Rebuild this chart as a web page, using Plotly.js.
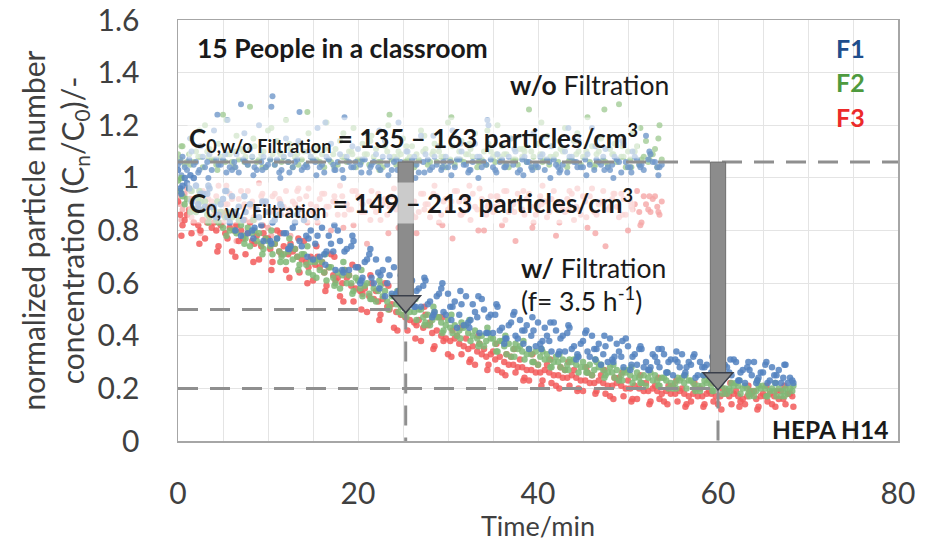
<!DOCTYPE html>
<html>
<head>
<meta charset="utf-8">
<script src="https://cdn.plot.ly/plotly-3.0.1.min.js"></script>
<style>html,body{margin:0;padding:0;background:#fff;}#chart{width:935px;height:542px;}</style>
</head>
<body>
<div id="chart"></div>
<script>
// ---- time grids (min) ----
const tA = [0,0.5,1,1.5,2,2.5,3,3.5,4,4.5,5,5.5,6,6.5,7,7.5,8,8.5,9,9.5,10,10.5,11,11.5,12,12.5,13,13.5,14,14.5,15,15.5,16,16.5,17,17.5,18,18.5,19,19.5,20,20.5,21,21.5,22,22.5,23,23.5,24,24.5,25,25.5,26,26.5,27,27.5,28,28.5,29,29.5,30,30.5,31,31.5,32,32.5,33,33.5,34,34.5,35,35.5,36,36.5,37,37.5,38,38.5,39,39.5,40,40.5,41,41.5,42,42.5,43,43.5,44,44.5,45,45.5,46,46.5,47,47.5,48,48.5,49,49.5,50,50.5,51,51.5,52,52.5,53,53.5,54,54.5,55,55.5,56,56.5,57,57.5,58,58.5,59,59.5,60,60.5,61,61.5,62,62.5,63,63.5,64,64.5,65,65.5,66,66.5,67,67.5,68];
const tB = [0.25,0.75,1.25,1.75,2.25,2.75,3.25,3.75,4.25,4.75,5.25,5.75,6.25,6.75,7.25,7.75,8.25,8.75,9.25,9.75,10.25,10.75,11.25,11.75,12.25,12.75,13.25,13.75,14.25,14.75,15.25,15.75,16.25,16.75,17.25,17.75,18.25,18.75,19.25,19.75,20.25,20.75,21.25,21.75,22.25,22.75,23.25,23.75,24.25,24.75,25.25,25.75,26.25,26.75,27.25,27.75,28.25,28.75,29.25,29.75,30.25,30.75,31.25,31.75,32.25,32.75,33.25,33.75,34.25,34.75,35.25,35.75,36.25,36.75,37.25,37.75,38.25,38.75,39.25,39.75,40.25,40.75,41.25,41.75,42.25,42.75,43.25,43.75,44.25,44.75,45.25,45.75,46.25,46.75,47.25,47.75,48.25,48.75,49.25,49.75,50.25,50.75,51.25,51.75,52.25,52.75,53.25,53.75,54.25,54.75,55.25,55.75,56.25,56.75,57.25,57.75,58.25,58.75,59.25,59.75,60.25,60.75,61.25,61.75,62.25,62.75,63.25,63.75,64.25,64.75,65.25,65.75,66.25,66.75,67.25,67.75,68.25];
const tC = [0.375,1.375,2.375,3.375,4.375,5.375,6.375,7.375,8.375,9.375,10.375,11.375,12.375,13.375,14.375,15.375,16.375,17.375,18.375,19.375,20.375,21.375,22.375,23.375,24.375,25.375,26.375,27.375,28.375,29.375,30.375,31.375,32.375,33.375,34.375,35.375,36.375,37.375,38.375,39.375,40.375,41.375,42.375,43.375,44.375,45.375,46.375,47.375,48.375,49.375,50.375,51.375,52.375,53.375,54.375,55.375,56.375,57.375,58.375,59.375,60.375,61.375,62.375,63.375,64.375,65.375,66.375,67.375,68.375];

// ---- w/ Filtration (normalized Cn/C0) ----
const f1WithA = [1.03,0.97,0.98,0.91,0.97,0.94,0.89,0.96,0.89,0.86,0.92,0.85,0.93,0.86,0.78,0.87,0.90,0.81,0.85,0.76,0.87,0.83,0.77,0.89,0.79,0.74,0.83,0.76,0.84,0.77,0.69,0.78,0.81,0.72,0.75,0.65,0.76,0.72,0.65,0.76,0.66,0.62,0.69,0.62,0.69,0.63,0.55,0.63,0.66,0.57,0.60,0.52,0.61,0.57,0.51,0.61,0.53,0.49,0.56,0.49,0.56,0.51,0.43,0.52,0.55,0.46,0.49,0.41,0.50,0.47,0.41,0.51,0.43,0.39,0.45,0.40,0.46,0.42,0.35,0.42,0.45,0.38,0.40,0.34,0.42,0.39,0.34,0.43,0.36,0.32,0.38,0.34,0.40,0.35,0.29,0.36,0.39,0.32,0.34,0.28,0.36,0.32,0.29,0.35,0.30,0.28,0.32,0.28,0.33,0.30,0.25,0.30,0.33,0.28,0.29,0.24,0.30,0.28,0.25,0.31,0.26,0.24,0.28,0.25,0.30,0.26,0.22,0.27,0.30,0.24,0.26,0.22,0.28,0.25,0.22,0.29,0.24];
const f1WithB = [0.96,1.00,0.96,1.00,0.90,0.94,0.94,0.89,0.85,0.90,0.95,0.83,0.87,0.89,0.84,0.79,0.80,0.88,0.82,0.91,0.76,0.84,0.86,0.79,0.73,0.81,0.86,0.74,0.78,0.80,0.75,0.70,0.71,0.78,0.72,0.80,0.65,0.73,0.74,0.66,0.60,0.68,0.71,0.60,0.64,0.65,0.60,0.56,0.56,0.63,0.58,0.65,0.51,0.58,0.59,0.52,0.47,0.55,0.58,0.48,0.51,0.53,0.48,0.44,0.45,0.52,0.47,0.54,0.41,0.48,0.48,0.42,0.37,0.44,0.48,0.39,0.42,0.44,0.40,0.36,0.37,0.43,0.38,0.45,0.33,0.40,0.41,0.35,0.31,0.37,0.41,0.32,0.35,0.37,0.33,0.30,0.31,0.37,0.32,0.39,0.27,0.33,0.35,0.28,0.27,0.33,0.30,0.35,0.26,0.31,0.31,0.28,0.25,0.30,0.32,0.25,0.28,0.29,0.26,0.24,0.25,0.29,0.26,0.31,0.23,0.27,0.28,0.25,0.22,0.26,0.29,0.23,0.25,0.27,0.24,0.22,0.23];
const f1WithC = [0.94,1.01,0.88,0.97,0.85,0.95,0.80,0.93,0.77,0.91,0.75,0.90,0.73,0.88,0.70,0.85,0.67,0.82,0.64,0.78,0.61,0.73,0.58,0.69,0.54,0.65,0.51,0.62,0.48,0.60,0.46,0.57,0.43,0.55,0.41,0.52,0.39,0.49,0.37,0.47,0.35,0.45,0.34,0.44,0.33,0.42,0.31,0.40,0.30,0.38,0.29,0.36,0.27,0.35,0.26,0.34,0.26,0.33,0.25,0.32,0.24,0.31,0.23,0.30,0.23,0.30,0.22,0.29,0.22];
const f2WithA = [0.99,0.93,0.92,0.95,0.87,0.91,0.91,0.85,0.88,0.83,0.81,0.87,0.85,0.79,0.82,0.77,0.74,0.80,0.79,0.73,0.76,0.71,0.77,0.70,0.68,0.74,0.73,0.67,0.71,0.64,0.63,0.69,0.68,0.61,0.66,0.60,0.58,0.65,0.63,0.57,0.61,0.55,0.60,0.54,0.53,0.59,0.57,0.51,0.55,0.49,0.48,0.53,0.52,0.46,0.50,0.45,0.44,0.49,0.47,0.42,0.46,0.41,0.40,0.45,0.44,0.38,0.42,0.37,0.36,0.41,0.39,0.34,0.38,0.33,0.32,0.37,0.36,0.31,0.35,0.30,0.29,0.34,0.33,0.28,0.32,0.28,0.27,0.31,0.31,0.26,0.30,0.26,0.25,0.30,0.29,0.25,0.28,0.24,0.23,0.27,0.27,0.22,0.26,0.22,0.21,0.26,0.25,0.21,0.24,0.20,0.20,0.24,0.24,0.20,0.23,0.19,0.19,0.23,0.23,0.19,0.22,0.18,0.18,0.22,0.22,0.18,0.21,0.17,0.17,0.21,0.21,0.17,0.20,0.17,0.17,0.20,0.20];
const f2WithB = [0.95,0.90,0.96,0.88,0.92,0.88,0.86,0.89,0.84,0.87,0.85,0.80,0.80,0.84,0.78,0.81,0.79,0.76,0.75,0.77,0.74,0.75,0.72,0.71,0.72,0.69,0.70,0.71,0.67,0.68,0.68,0.65,0.64,0.66,0.62,0.64,0.63,0.60,0.60,0.62,0.58,0.59,0.56,0.58,0.57,0.55,0.53,0.55,0.52,0.51,0.51,0.49,0.49,0.50,0.47,0.48,0.46,0.47,0.45,0.44,0.43,0.44,0.42,0.43,0.41,0.40,0.39,0.40,0.38,0.39,0.37,0.38,0.36,0.37,0.35,0.35,0.34,0.33,0.33,0.34,0.32,0.31,0.31,0.30,0.30,0.31,0.29,0.30,0.29,0.28,0.28,0.29,0.27,0.28,0.27,0.26,0.26,0.27,0.25,0.26,0.25,0.24,0.24,0.25,0.24,0.23,0.23,0.24,0.23,0.22,0.22,0.23,0.22,0.23,0.22,0.21,0.21,0.22,0.21,0.22,0.21,0.20,0.20,0.21,0.21,0.20,0.20,0.19,0.19,0.20,0.20,0.19,0.19,0.20,0.19,0.18,0.19];
const f2WithC = [1.00,0.87,0.95,0.83,0.91,0.78,0.87,0.75,0.84,0.71,0.80,0.68,0.77,0.65,0.74,0.62,0.71,0.59,0.68,0.56,0.65,0.54,0.61,0.50,0.57,0.47,0.54,0.44,0.51,0.41,0.48,0.39,0.46,0.36,0.43,0.34,0.40,0.32,0.38,0.30,0.35,0.28,0.33,0.27,0.32,0.26,0.31,0.24,0.29,0.23,0.28,0.22,0.27,0.21,0.26,0.20,0.25,0.20,0.25,0.19,0.24,0.19,0.23,0.18,0.23,0.17,0.22,0.17,0.21];
const f3WithA = [0.91,0.82,0.86,0.79,0.88,0.80,0.77,0.85,0.83,0.74,0.86,0.77,0.72,0.82,0.80,0.71,0.83,0.75,0.69,0.79,0.77,0.68,0.80,0.71,0.65,0.75,0.73,0.64,0.76,0.66,0.61,0.70,0.68,0.59,0.71,0.61,0.55,0.65,0.63,0.53,0.66,0.56,0.49,0.60,0.57,0.48,0.60,0.50,0.43,0.54,0.51,0.42,0.53,0.44,0.38,0.48,0.45,0.36,0.47,0.38,0.33,0.42,0.40,0.33,0.39,0.31,0.29,0.37,0.35,0.29,0.34,0.27,0.26,0.33,0.32,0.26,0.31,0.24,0.23,0.30,0.29,0.23,0.29,0.22,0.21,0.28,0.27,0.21,0.27,0.20,0.19,0.26,0.25,0.19,0.25,0.18,0.17,0.24,0.24,0.17,0.23,0.16,0.16,0.22,0.22,0.15,0.21,0.16,0.15,0.21,0.21,0.15,0.20,0.14,0.15,0.20,0.20,0.14,0.19,0.15,0.14,0.20,0.19,0.14,0.19,0.15,0.14,0.19,0.19,0.13,0.18,0.15,0.14,0.19,0.19,0.14,0.18];
const f3WithB = [0.86,0.84,0.88,0.83,0.82,0.84,0.83,0.81,0.80,0.82,0.79,0.81,0.80,0.76,0.77,0.79,0.76,0.78,0.74,0.77,0.73,0.75,0.72,0.74,0.71,0.72,0.70,0.69,0.68,0.70,0.67,0.66,0.64,0.66,0.63,0.62,0.60,0.62,0.59,0.58,0.57,0.58,0.55,0.54,0.53,0.54,0.51,0.52,0.49,0.48,0.47,0.46,0.45,0.46,0.43,0.44,0.41,0.42,0.40,0.39,0.38,0.39,0.37,0.36,0.35,0.36,0.34,0.33,0.32,0.33,0.31,0.32,0.30,0.29,0.29,0.28,0.28,0.27,0.27,0.26,0.26,0.27,0.26,0.25,0.25,0.24,0.24,0.25,0.24,0.23,0.23,0.22,0.22,0.23,0.22,0.21,0.21,0.22,0.21,0.20,0.20,0.21,0.20,0.19,0.19,0.20,0.19,0.18,0.19,0.18,0.18,0.19,0.18,0.17,0.18,0.17,0.17,0.18,0.18,0.17,0.17,0.18,0.17,0.18,0.17,0.16,0.17,0.18,0.16,0.17,0.17,0.18,0.17,0.16,0.16,0.18,0.17];
const f3WithC = [0.78,0.92,0.75,0.89,0.72,0.87,0.70,0.84,0.68,0.82,0.65,0.79,0.62,0.77,0.60,0.74,0.57,0.70,0.53,0.67,0.50,0.63,0.46,0.59,0.42,0.55,0.39,0.51,0.35,0.47,0.32,0.43,0.30,0.40,0.27,0.37,0.25,0.35,0.23,0.33,0.21,0.31,0.20,0.30,0.19,0.28,0.18,0.27,0.16,0.26,0.15,0.25,0.14,0.24,0.14,0.23,0.13,0.22,0.13,0.22,0.12,0.22,0.13,0.21,0.12,0.21,0.13,0.21,0.13];

// ---- w/o Filtration (0 - 53.75 min) ----
const f1WithoutA = [1.05,1.08,1.03,1.10,1.06,1.12,1.04,1.09,1.18,1.05,1.07,1.22,1.03,1.09,1.28,1.06,1.11,1.04,1.20,1.08,1.05,1.31,1.07,1.03,1.15,1.09,1.06,1.25,1.04,1.10,1.07,1.19,1.05,1.08,1.13,1.03,1.09,1.23,1.06,1.04,1.11,1.07,1.17,1.05,1.09,1.03,1.14,1.08,1.06,1.21,1.04,1.10,1.07,1.05,1.16,1.09,1.03,1.08,1.12,1.06,1.04,1.18,1.07,1.10,1.05,1.03,1.13,1.08,1.06,1.20,1.04,1.09,1.07,1.05,1.15,1.10,1.03,1.08,1.06,1.17,1.04,1.09,1.07,1.12,1.05,1.03,1.10,1.08,1.06,1.14,1.04,1.09,1.19,1.07,1.05,1.11,1.03,1.08,1.06,1.13,1.04,1.10,1.07,1.05,1.16,1.09,1.06,1.04];
const f1WithoutB = [1.06,1.04,1.07,1.05,1.02,1.08,1.06,1.03,1.07,1.05,1.09,1.04,1.06,1.02,1.07,1.05,1.08,1.03,1.06,1.04,1.07,1.05,1.02,1.08,1.06,1.04,1.07,1.03,1.05,1.08,1.06,1.04,1.02,1.07,1.05,1.06,1.03,1.08,1.04,1.06,1.05,1.07,1.02,1.06,1.04,1.08,1.05,1.03,1.07,1.06,1.04,1.05,1.08,1.02,1.06,1.07,1.04,1.05,1.03,1.08,1.06,1.04,1.07,1.05,1.02,1.06,1.08,1.04,1.05,1.07,1.03,1.06,1.04,1.08,1.05,1.02,1.07,1.06,1.04,1.05,1.08,1.03,1.06,1.07,1.04,1.05,1.02,1.08,1.06,1.04,1.07,1.05,1.03,1.06,1.08,1.04,1.05,1.07,1.02,1.06,1.04,1.08,1.05,1.03,1.07,1.06,1.04,1.05];
const f1WithoutC = [1.01,1.15,1.03,1.00,1.24,1.02,1.04,1.17,1.01,1.03,1.27,1.00,1.02,1.14,1.04,1.01,1.21,1.03,1.00,1.12,1.02,1.04,1.18,1.01,1.03,1.10,1.00,1.02,1.16,1.04,1.01,1.13,1.03,1.00,1.22,1.02,1.04,1.11,1.01,1.03,1.15,1.00,1.02,1.19,1.04,1.01,1.12,1.03,1.00,1.14,1.02,1.04,1.10,1.01];
const f2WithoutA = [1.09,1.12,1.06,1.15,1.10,1.08,1.20,1.11,1.07,1.13,1.24,1.09,1.06,1.16,1.11,1.08,1.27,1.12,1.07,1.10,1.18,1.09,1.14,1.06,1.22,1.11,1.08,1.13,1.10,1.17,1.07,1.12,1.09,1.21,1.06,1.11,1.14,1.08,1.10,1.19,1.07,1.13,1.09,1.16,1.11,1.06,1.12,1.24,1.08,1.10,1.15,1.07,1.12,1.09,1.18,1.11,1.06,1.13,1.10,1.08,1.21,1.12,1.07,1.14,1.09,1.11,1.17,1.06,1.10,1.13,1.08,1.20,1.12,1.09,1.15,1.07,1.11,1.10,1.26,1.08,1.13,1.06,1.16,1.12,1.09,1.11,1.19,1.07,1.14,1.10,1.08,1.23,1.12,1.09,1.15,1.06,1.11,1.13,1.28,1.08,1.10,1.17,1.12,1.07,1.14,1.09,1.11,1.20];
const f2WithoutB = [1.07,1.05,1.09,1.06,1.08,1.04,1.10,1.07,1.05,1.08,1.06,1.09,1.04,1.07,1.10,1.05,1.08,1.06,1.09,1.04,1.07,1.05,1.10,1.08,1.06,1.04,1.09,1.07,1.05,1.08,1.10,1.06,1.04,1.07,1.09,1.05,1.08,1.06,1.10,1.04,1.07,1.09,1.05,1.08,1.06,1.04,1.10,1.07,1.05,1.09,1.06,1.08,1.04,1.07,1.10,1.05,1.09,1.06,1.08,1.04,1.07,1.05,1.10,1.06,1.09,1.08,1.04,1.07,1.05,1.10,1.06,1.08,1.09,1.04,1.07,1.05,1.08,1.06,1.10,1.04,1.09,1.07,1.05,1.08,1.06,1.10,1.04,1.07,1.09,1.05,1.08,1.06,1.04,1.10,1.07,1.05,1.09,1.06,1.08,1.04,1.07,1.10,1.05,1.08,1.06,1.09,1.04,1.07];
const f2WithoutC = [1.12,1.05,1.18,1.08,1.03,1.22,1.10,1.06,1.15,1.04,1.19,1.09,1.13,1.05,1.25,1.07,1.11,1.04,1.17,1.09,1.06,1.14,1.03,1.20,1.08,1.12,1.05,1.16,1.10,1.04,1.23,1.07,1.13,1.06,1.18,1.09,1.05,1.15,1.11,1.04,1.21,1.08,1.14,1.06,1.17,1.10,1.05,1.26,1.09,1.12,1.04,1.19,1.07,1.15];
const f3WithoutA = [0.93,0.88,0.96,0.85,0.91,0.79,0.94,0.89,0.86,0.97,0.83,0.90,0.92,0.76,0.95,0.87,0.89,0.84,0.98,0.91,0.81,0.93,0.88,0.86,0.95,0.78,0.90,0.92,0.85,0.96,0.87,0.83,0.94,0.89,0.80,0.91,0.97,0.86,0.88,0.82,0.93,0.90,0.75,0.95,0.87,0.84,0.92,0.89,0.96,0.81,0.88,0.93,0.86,0.79,0.94,0.90,0.85,0.97,0.83,0.91,0.88,0.77,0.95,0.86,0.92,0.84,0.89,0.96,0.80,0.90,0.87,0.93,0.82,0.95,0.88,0.76,0.91,0.86,0.94,0.83,0.89,0.97,0.85,0.92,0.78,0.90,0.87,0.95,0.84,0.88,0.93,0.81,0.96,0.86,0.91,0.74,0.89,0.94,0.85,0.92,0.80,0.88,0.95,0.83,0.90,0.87,0.93,0.86];
const f3WithoutB = [0.90,0.94,0.87,0.92,0.89,0.95,0.88,0.91,0.93,0.87,0.90,0.94,0.86,0.92,0.89,0.95,0.91,0.88,0.93,0.90,0.87,0.94,0.92,0.89,0.86,0.91,0.95,0.88,0.93,0.90,0.87,0.92,0.94,0.89,0.91,0.86,0.93,0.90,0.88,0.95,0.92,0.87,0.91,0.89,0.94,0.90,0.86,0.93,0.88,0.92,0.95,0.89,0.91,0.87,0.94,0.90,0.88,0.93,0.86,0.92,0.89,0.95,0.91,0.87,0.90,0.94,0.88,0.92,0.86,0.93,0.89,0.91,0.95,0.87,0.90,0.94,0.88,0.92,0.89,0.86,0.93,0.91,0.87,0.95,0.90,0.88,0.92,0.94,0.89,0.86,0.91,0.93,0.87,0.90,0.95,0.88,0.92,0.89,0.94,0.86,0.91,0.90,0.87,0.93,0.88,0.92,0.89,0.91];
const f3WithoutC = [0.84,0.95,0.80,0.92,0.87,0.97,0.82,0.90,0.85,0.94,0.78,0.91,0.88,0.96,0.83,0.89,0.86,0.93,0.81,0.95,0.87,0.84,0.92,0.79,0.90,0.96,0.85,0.88,0.94,0.82,0.91,0.86,0.97,0.80,0.89,0.93,0.84,0.87,0.95,0.81,0.90,0.92,0.83,0.88,0.96,0.85,0.79,0.91,0.94,0.86,0.89,0.82,0.93,0.87];

// ---- reference marks ----
const c0Level = 1.06;          // start level of arrows
const halfTime = 25.3, halfLevel = 0.5;
const hepaTime = 60, hepaLevel = 0.2;
const xTicks = [0, 20, 40, 60, 80];

const FONT = "Lato, 'Open Sans', 'Liberation Sans', sans-serif";
const cols = {
  f1w: '#5482bf', f2w: '#7fb877', f3w: '#f25b5b',
  f1o: '#6f97c9', f2o: '#a2cc96', f3o: '#f5a6a6'
};

function sc(x, y, color, size, op) {
  return {x: x, y: y, type: 'scatter', mode: 'markers', hoverinfo: 'skip',
    marker: {color: color, size: size, opacity: op, line: {width: 0}}};
}
const nO = f1WithoutA.length, nOC = f1WithoutC.length;
const traces = [
  sc(tA.slice(0, nO), f3WithoutA, cols.f3o, 6, 0.8),
  sc(tB.slice(0, nO), f3WithoutB, cols.f3o, 6, 0.8),
  sc(tC.slice(0, nOC), f3WithoutC, cols.f3o, 6, 0.8),
  sc(tA.slice(0, nO), f2WithoutA, cols.f2o, 6, 0.8),
  sc(tB.slice(0, nO), f2WithoutB, cols.f2o, 6, 0.8),
  sc(tC.slice(0, nOC), f2WithoutC, cols.f2o, 6, 0.8),
  sc(tA.slice(0, nO), f1WithoutA, cols.f1o, 6, 0.8),
  sc(tB.slice(0, nO), f1WithoutB, cols.f1o, 6, 0.8),
  sc(tC.slice(0, nOC), f1WithoutC, cols.f1o, 6, 0.8),
  sc(tA, f3WithA, cols.f3w, 6.5, 0.85),
  sc(tB, f3WithB, cols.f3w, 6.5, 0.85),
  sc(tC, f3WithC, cols.f3w, 6.5, 0.85),
  sc(tA, f2WithA, cols.f2w, 6.5, 0.85),
  sc(tB, f2WithB, cols.f2w, 6.5, 0.85),
  sc(tC, f2WithC, cols.f2w, 6.5, 0.85),
  sc(tA, f1WithA, cols.f1w, 6.5, 0.85),
  sc(tB, f1WithB, cols.f1w, 6.5, 0.85),
  sc(tC, f1WithC, cols.f1w, 6.5, 0.85)
];

const dashStyle = {color: '#8f8f8f', width: 3, dash: '20px,12px'};
function seg(x0, y0, x1, y1) {
  return {type: 'line', xref: 'x', yref: 'y', x0: x0, y0: y0, x1: x1, y1: y1, line: dashStyle, layer: 'above'};
}
function arrow(x, yTop, yTip) {
  const hw = 0.85, headW = 1.65, headH = 0.065;
  return [
    {type: 'rect', xref: 'x', yref: 'y', x0: x - hw, x1: x + hw, y0: yTip + headH, y1: yTop,
      fillcolor: '#8c8c8c', line: {color: '#6e6e6e', width: 1}, layer: 'above'},
    {type: 'path', xref: 'x', yref: 'y',
      path: 'M ' + (x - headW) + ',' + (yTip + headH) + ' L ' + (x + headW) + ',' + (yTip + headH) + ' L ' + x + ',' + yTip + ' Z',
      fillcolor: '#8c8c8c', line: {color: '#3a3f4a', width: 1.5}, layer: 'above'}
  ];
}
const shapes = [
  seg(0, c0Level, 80, c0Level),
  seg(0, halfLevel, halfTime, halfLevel),
  seg(halfTime, halfLevel, halfTime, 0),
  seg(0, hepaLevel, hepaTime, hepaLevel),
  seg(hepaTime, hepaLevel, hepaTime, 0)
].concat(arrow(halfTime, c0Level, 0.487), arrow(hepaTime, c0Level, 0.194));

function ann(text, x, y, size, opts) {
  return Object.assign({text: text, x: x, y: y, xref: 'x', yref: 'y', showarrow: false,
    xanchor: 'left', yanchor: 'middle', font: {family: FONT, size: size, color: '#1a1a1a'}}, opts || {});
}
const annotations = [
  ann('<b>15 People in a classroom</b>', 1.9, 1.494, 26.5),
  ann('<b>F1</b>', 74.7, 1.494, 25, {xanchor: 'center', font: {family: FONT, size: 25, color: '#1f4e8c'}}),
  ann('<b>F2</b>', 74.7, 1.365, 25, {xanchor: 'center', font: {family: FONT, size: 25, color: '#4e9a3e'}}),
  ann('<b>F3</b>', 74.7, 1.232, 25, {xanchor: 'center', font: {family: FONT, size: 25, color: '#ec2a2a'}}),
  ann('<b>w/o</b> Filtration', 36.7, 1.354, 26.5),
  ann('<b>C<sub>0,w/o Filtration</sub> = 135 – 163 particles/cm<sup>3</sup></b>', 1.0, 1.15, 26,
      {bgcolor: 'rgba(255,255,255,0.55)', borderpad: 1}),
  ann('<b>C<sub>0, w/ Filtration</sub> = 149 – 213 particles/cm<sup>3</sup></b>', 1.0, 0.905, 26,
      {bgcolor: 'rgba(255,255,255,0.55)', borderpad: 1}),
  ann('<b>w/</b> Filtration', 37.9, 0.658, 26.5),
  ann('(f= 3.5 h<sup>-1</sup>)', 37.9, 0.536, 26.5),
  ann('<b>HEPA H14</b>', 79.1, 0.045, 24.5, {xanchor: 'right'})
];

const layout = {
  width: 935, height: 542,
  margin: {l: 178, r: 37, t: 20, b: 101, autoexpand: false},
  paper_bgcolor: '#ffffff', plot_bgcolor: '#ffffff',
  showlegend: false,
  font: {family: FONT, color: '#404040'},
  xaxis: {
    range: [0, 80], tickvals: xTicks, ticktext: xTicks.map(String),
    showgrid: true, gridcolor: '#e4e4e4', gridwidth: 1,
    minor: {dtick: 5, tick0: 0, showgrid: true, gridcolor: '#e4e4e4', gridwidth: 1},
    showline: true, mirror: true, linecolor: '#a6a6a6', linewidth: 1.5,
    zeroline: false, ticks: '', ticklabelstandoff: 25,
    tickfont: {family: FONT, size: 30, color: '#404040'},
    title: {text: 'Time/min', font: {family: FONT, size: 27, color: '#404040'}, standoff: 4},
    automargin: false, fixedrange: true
  },
  yaxis: {
    range: [0, 1.6], dtick: 0.2, tick0: 0,
    showgrid: true, gridcolor: '#e4e4e4', gridwidth: 1,
    showline: true, mirror: true, linecolor: '#a6a6a6', linewidth: 1.5,
    zeroline: false, ticks: '', ticklabelstandoff: 31,
    tickfont: {family: FONT, size: 30, color: '#404040'},
    title: {text: 'normalized particle number<br>concentration (C<sub>n</sub>/C<sub>0</sub>)/-',
      font: {family: FONT, size: 30, color: '#404040'}, standoff: 4},
    automargin: false, fixedrange: true
  },
  shapes: shapes,
  annotations: annotations
};

Plotly.newPlot('chart', traces, layout, {staticPlot: true, displayModeBar: false});
</script>
</body>
</html>
